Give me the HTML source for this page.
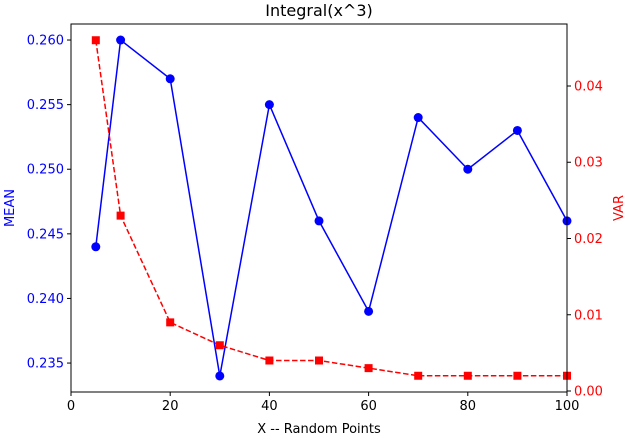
<!DOCTYPE html>
<html><head><meta charset="utf-8"><style>
body{margin:0;background:#fff;font-family:"Liberation Sans","DejaVu Sans",sans-serif}
svg text{font-family:"DejaVu Sans","Liberation Sans",sans-serif}
</style></head><body>
<svg id="chart" width="628" height="440"></svg>
<script>
const xVals=[5,10,20,30,40,50,60,70,80,90,100];
const meanVals=[0.244,0.260,0.257,0.234,0.255,0.246,0.239,0.254,0.250,0.253,0.246];
const varVals=[0.046,0.023,0.009,0.006,0.004,0.004,0.003,0.002,0.002,0.002,0.002];
const xTicks=[0,20,40,60,80,100];
const leftTicks=[0.235,0.240,0.245,0.250,0.255,0.260];
const rightTicks=[0.00,0.01,0.02,0.03,0.04];

const L=71,R=567,T=24,B=392;
const sx=v=>L+(v-0)/100*(R-L);
const lMin=0.23276,lMax=0.26124;
const sy=v=>B-(v-lMin)/(lMax-lMin)*(B-T);
const rMin=-0.00013,rMax=0.04813;
const sr=v=>B-(v-rMin)/(rMax-rMin)*(B-T);
const svg=document.getElementById('chart');
const NS='http://www.w3.org/2000/svg';
function mk(tag,attrs,parent){const e=document.createElementNS(NS,tag);for(const k in attrs)e.setAttribute(k,attrs[k]);(parent||svg).appendChild(e);return e;}

// x ticks
xTicks.forEach(v=>{
  const g=mk('g',{});
  
  
  mk('line',{x1:sx(v),x2:sx(v),y1:B,y2:B+4,stroke:'#000'},g);
  const t=mk('text',{x:sx(v),y:B+18,'text-anchor':'middle','font-size':13},g);t.textContent=v;
});
leftTicks.forEach(v=>{
  const g=mk('g',{});
  
  
  mk('line',{x1:L-4,x2:L,y1:sy(v),y2:sy(v),stroke:'#000'},g);
  const t=mk('text',{x:L-7,y:sy(v)+4.5,'text-anchor':'end','font-size':13,fill:'blue'},g);t.textContent=v.toFixed(3);
});
rightTicks.forEach(v=>{
  const g=mk('g',{});
  
  
  mk('line',{x1:R,x2:R+4,y1:sr(v),y2:sr(v),stroke:'#000'},g);
  const t=mk('text',{x:R+7,y:sr(v)+4.5,'text-anchor':'start','font-size':13,fill:'red'},g);t.textContent=v.toFixed(2);
});

// mean series
const mp=mk('polyline',{points:xVals.map((x,i)=>sx(x)+','+sy(meanVals[i])).join(' '),fill:'none',stroke:'blue','stroke-width':1.5});


xVals.forEach((x,i)=>{
  const c=mk('circle',{cx:sx(x),cy:sy(meanVals[i]),r:4.5,fill:'blue'});
  
  
});
// var series
const vp=mk('polyline',{points:xVals.map((x,i)=>sx(x)+','+sr(varVals[i])).join(' '),fill:'none',stroke:'red','stroke-width':1.5,'stroke-dasharray':'5.5,2.5'});


xVals.forEach((x,i)=>{
  const s=mk('rect',{x:sx(x)-4,y:sr(varVals[i])-4,width:8,height:8,fill:'red'});
  
  
});

const frame=mk('rect',{x:L,y:T,width:R-L,height:B-T,fill:'none',stroke:'#000','stroke-width':1});



const title=mk('text',{x:(L+R)/2,y:T-8,'text-anchor':'middle','font-size':16});title.textContent='Integral(x^3)';


const xl=mk('text',{x:(L+R)/2,y:433,'text-anchor':'middle','font-size':13});xl.textContent='X -- Random Points';


const yl=mk('text',{x:14,y:(T+B)/2,'text-anchor':'middle','font-size':13,fill:'blue',transform:'rotate(-90 14 '+((T+B)/2)+')'});yl.textContent='MEAN';


const yr=mk('text',{x:623,y:(T+B)/2,'text-anchor':'middle','font-size':13,fill:'red',transform:'rotate(-90 623 '+((T+B)/2)+')'});yr.textContent='VAR';


</script>
</body></html>
